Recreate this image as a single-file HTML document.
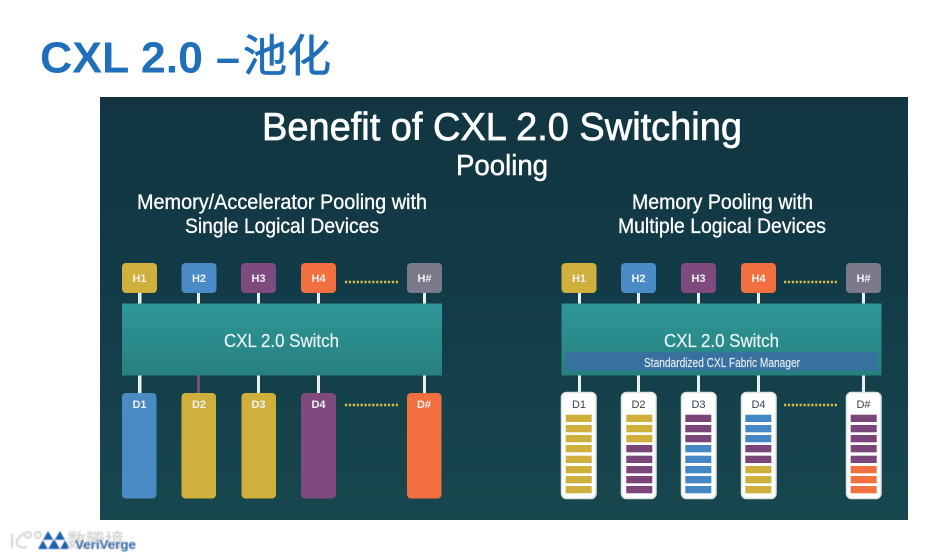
<!DOCTYPE html>
<html><head><meta charset="utf-8">
<style>
html,body{margin:0;padding:0;background:#fff;width:945px;height:560px;overflow:hidden}
svg{display:block}
text{font-family:"Liberation Sans","Noto Sans CJK SC",sans-serif}
</style></head><body>
<svg width="945" height="560" viewBox="0 0 945 560" xmlns="http://www.w3.org/2000/svg">
<defs>
<linearGradient id="bg" x1="0" y1="0" x2="0" y2="1">
<stop offset="0" stop-color="#123541"/><stop offset=".45" stop-color="#123b47"/><stop offset="1" stop-color="#18474e"/>
</linearGradient>
<linearGradient id="sw" x1="0" y1="0" x2="0" y2="1">
<stop offset="0" stop-color="#2f9798"/><stop offset="1" stop-color="#28807f"/>
</linearGradient>
<filter id="b"><feGaussianBlur stdDeviation=".35"/></filter>
<filter id="b2"><feGaussianBlur stdDeviation=".6"/></filter>
</defs>
<g fill="#1f6fbb">
<text x="40" y="72.500" font-size="44" font-weight="700" textLength="163" lengthAdjust="spacingAndGlyphs">CXL 2.0</text>
<text x="216" y="72.500" font-size="44" font-weight="700" textLength="24" lengthAdjust="spacingAndGlyphs">–</text>
<text x="243" y="71" font-size="44" stroke="#1f6fbb" stroke-width=".8" textLength="88" lengthAdjust="spacingAndGlyphs">池化</text>
</g>
<rect x="100" y="97" width="808" height="423" fill="url(#bg)"/>
<g filter="url(#b)">
<g fill="#fff" stroke="#fff" stroke-width=".5">
<text x="262" y="140" font-size="39" stroke-width=".7" textLength="480" lengthAdjust="spacingAndGlyphs">Benefit of CXL 2.0 Switching</text>
<text x="456" y="175" font-size="29" textLength="92" lengthAdjust="spacingAndGlyphs">Pooling</text>
<text x="137" y="209" font-size="21" stroke-width=".3" textLength="290" lengthAdjust="spacingAndGlyphs">Memory/Accelerator Pooling with</text>
<text x="185" y="233" font-size="21" stroke-width=".3" textLength="194" lengthAdjust="spacingAndGlyphs">Single Logical Devices</text>
<text x="632" y="209" font-size="21" stroke-width=".3" textLength="181" lengthAdjust="spacingAndGlyphs">Memory Pooling with</text>
<text x="618" y="233" font-size="21" stroke-width=".3" textLength="208" lengthAdjust="spacingAndGlyphs">Multiple Logical Devices</text>
</g>

<g fill="#e8f0f0">
<rect x="138" y="292" width="3.500" height="12"/><rect x="197" y="292" width="3" height="12"/><rect x="257" y="292" width="3" height="12"/><rect x="317" y="292" width="3" height="12"/><rect x="423" y="292" width="3" height="12"/>
<rect x="138" y="375" width="3.500" height="19"/><rect x="257" y="375" width="3" height="19"/><rect x="317" y="375" width="3" height="19"/><rect x="423" y="375" width="3" height="19"/>
<rect x="578" y="292" width="3" height="12"/><rect x="637" y="292" width="3" height="12"/><rect x="697" y="292" width="3" height="12"/><rect x="757" y="292" width="3" height="12"/><rect x="862" y="292" width="3" height="12"/>
<rect x="578" y="375" width="3" height="19"/><rect x="637" y="375" width="3" height="19"/><rect x="697" y="375" width="3" height="19"/><rect x="757" y="375" width="3" height="19"/><rect x="862" y="375" width="3" height="19"/>
</g>
<rect x="197" y="375" width="3" height="19" fill="#7d4a7c"/>

<rect x="122" y="263" width="35" height="30" rx="4" fill="#cfb03c"/>
<rect x="181.500" y="263" width="35" height="30" rx="4" fill="#4b8bc5"/>
<rect x="241" y="263" width="35" height="30" rx="4" fill="#7f4b7f"/>
<rect x="301" y="263" width="35" height="30" rx="4" fill="#f27040"/>
<rect x="407" y="263" width="35" height="30" rx="4" fill="#7a7a8a"/>
<rect x="122" y="303.500" width="320" height="72" fill="url(#sw)"/>
<rect x="122" y="393" width="34.500" height="105.500" rx="4" fill="#4b8bc5"/>
<rect x="181.500" y="393" width="34.500" height="105.500" rx="4" fill="#cfb03c"/>
<rect x="241.500" y="393" width="34.500" height="105.500" rx="4" fill="#cfb03c"/>
<rect x="301" y="393" width="35" height="105.500" rx="4" fill="#7f4b7f"/>
<rect x="407" y="393" width="34.500" height="105.500" rx="4" fill="#f27040"/>
<g fill="none" stroke="#d6c04a" stroke-width="2.500" stroke-dasharray="2.200 1.700">
<line x1="345" y1="282" x2="399" y2="282"/><line x1="345" y1="405" x2="399" y2="405"/>
<line x1="784" y1="282" x2="838" y2="282"/><line x1="784" y1="405" x2="838" y2="405"/>
</g>
<g fill="#eef2f2" font-size="11" font-weight="700" text-anchor="middle">
<text x="139.500" y="282">H1</text><text x="199" y="282">H2</text><text x="258.500" y="282">H3</text><text x="318.500" y="282">H4</text><text x="424.500" y="282">H#</text>
<text x="139.500" y="408">D1</text><text x="199" y="408">D2</text><text x="258.500" y="408">D3</text><text x="318.500" y="408">D4</text><text x="424" y="408">D#</text>
</g>
<text x="224" y="347" font-size="18" fill="#eaf5f4" stroke="#eaf5f4" stroke-width=".2" textLength="115" lengthAdjust="spacingAndGlyphs">CXL 2.0 Switch</text>

<rect x="561.500" y="263" width="35" height="30" rx="4" fill="#cfb03c"/>
<rect x="621" y="263" width="35" height="30" rx="4" fill="#4b8bc5"/>
<rect x="681" y="263" width="35" height="30" rx="4" fill="#7f4b7f"/>
<rect x="741" y="263" width="35" height="30" rx="4" fill="#f27040"/>
<rect x="846" y="263" width="35" height="30" rx="4" fill="#7a7a8a"/>
<g fill="#eef2f2" font-size="11" font-weight="700" text-anchor="middle">
<text x="579" y="282">H1</text><text x="638.500" y="282">H2</text><text x="698.500" y="282">H3</text><text x="758.500" y="282">H4</text><text x="863.500" y="282">H#</text>
</g>
<rect x="561.500" y="303.500" width="320" height="72" fill="url(#sw)"/>
<rect x="566" y="352.300" width="311" height="18.500" fill="#386f9f"/>
<text x="664" y="347" font-size="18" fill="#eaf5f4" stroke="#eaf5f4" stroke-width=".2" textLength="115" lengthAdjust="spacingAndGlyphs">CXL 2.0 Switch</text>
<text x="644" y="367" font-size="13" fill="#e6eef2" stroke="#e6eef2" stroke-width=".15" textLength="156" lengthAdjust="spacingAndGlyphs">Standardized CXL Fabric Manager</text>

<g fill="#fff" stroke="#dfe4e5" stroke-width="1.500">
<rect x="561.500" y="392.500" width="34.500" height="106" rx="5"/>
<rect x="621.500" y="392.500" width="34.500" height="106" rx="5"/>
<rect x="681.500" y="392.500" width="34.500" height="106" rx="5"/>
<rect x="741.500" y="392.500" width="34.500" height="106" rx="5"/>
<rect x="846.500" y="392.500" width="34.500" height="106" rx="5"/>
</g>
<g fill="#33424c" font-size="11" text-anchor="middle">
<text x="579" y="408">D1</text><text x="638.500" y="408">D2</text><text x="698.500" y="408">D3</text><text x="758.500" y="408">D4</text><text x="863.500" y="408">D#</text>
</g>
<g fill="#cfb03c">
<rect x="565.700" y="414.700" width="26" height="7.300"/><rect x="565.700" y="425" width="26" height="7.300"/><rect x="565.700" y="435" width="26" height="7.300"/><rect x="565.700" y="445" width="26" height="7.300"/><rect x="565.700" y="455.700" width="26" height="7.300"/><rect x="565.700" y="466" width="26" height="7.300"/><rect x="565.700" y="476" width="26" height="7.300"/><rect x="565.700" y="486" width="26" height="7.300"/>
<rect x="626.300" y="414.700" width="26" height="7.300"/><rect x="626.300" y="425" width="26" height="7.300"/><rect x="626.300" y="435" width="26" height="7.300"/>
<rect x="745.300" y="466" width="26" height="7.300"/><rect x="745.300" y="476" width="26" height="7.300"/><rect x="745.300" y="486" width="26" height="7.300"/>
</g>
<g fill="#7a4478">
<rect x="626.300" y="445" width="26" height="7.300"/><rect x="626.300" y="455.700" width="26" height="7.300"/><rect x="626.300" y="466" width="26" height="7.300"/><rect x="626.300" y="476" width="26" height="7.300"/><rect x="626.300" y="486" width="26" height="7.300"/>
<rect x="685.300" y="414.700" width="26" height="7.300"/><rect x="685.300" y="425" width="26" height="7.300"/><rect x="685.300" y="435" width="26" height="7.300"/>
<rect x="745.300" y="445" width="26" height="7.300"/><rect x="745.300" y="455.700" width="26" height="7.300"/>
<rect x="850.700" y="414.700" width="26" height="7.300"/><rect x="850.700" y="425" width="26" height="7.300"/><rect x="850.700" y="435" width="26" height="7.300"/><rect x="850.700" y="445" width="26" height="7.300"/><rect x="850.700" y="455.700" width="26" height="7.300"/>
</g>
<g fill="#4487c4">
<rect x="685.300" y="445" width="26" height="7.300"/><rect x="685.300" y="455.700" width="26" height="7.300"/><rect x="685.300" y="466" width="26" height="7.300"/><rect x="685.300" y="476" width="26" height="7.300"/><rect x="685.300" y="486" width="26" height="7.300"/>
<rect x="745.300" y="414.700" width="26" height="7.300"/><rect x="745.300" y="425" width="26" height="7.300"/><rect x="745.300" y="435" width="26" height="7.300"/>
</g>
<g fill="#f27040">
<rect x="850.700" y="466" width="26" height="7.300"/><rect x="850.700" y="476" width="26" height="7.300"/><rect x="850.700" y="486" width="26" height="7.300"/>
</g>
</g>

<g filter="url(#b2)">
<g fill="none" stroke="#d8d8d8" stroke-width="2.200">
<path d="M12 534 V548 M24 533 Q15 540 17 544 Q20 549 27 547"/>
<circle cx="28" cy="535" r="3"/><circle cx="38" cy="535" r="3"/>
</g>
<path d="M38 549 L48 531 L54 541 L60 531 L70 549 Z" fill="#1f62b0"/>
<path d="M43 540 H53 L48 549 Z M55 540 H65 L60 549 Z" fill="#fff"/>
<text x="67" y="547" font-size="19" font-weight="700" fill="#d8d8d8" textLength="57" lengthAdjust="spacingAndGlyphs">数腾境</text>
<text x="75" y="549" font-size="13" font-weight="700" fill="#2a67a8" textLength="61" lengthAdjust="spacingAndGlyphs">VeriVerge</text>
</g>
</svg>
</body></html>
